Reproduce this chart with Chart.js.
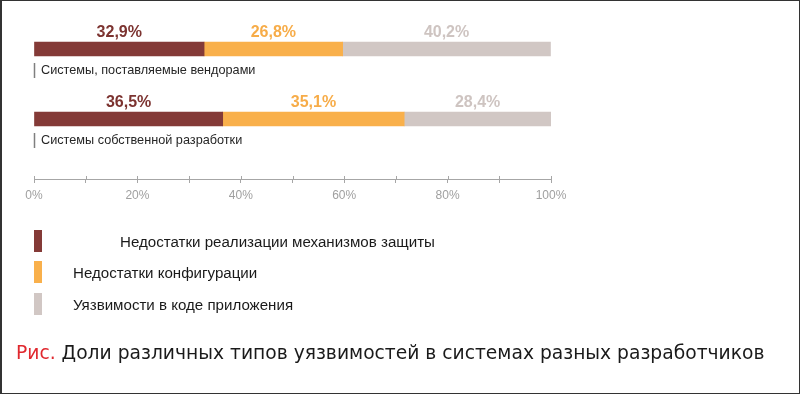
<!DOCTYPE html>
<html>
<head>
<meta charset="utf-8">
<script src="https://cdn.jsdelivr.net/npm/chart.js@4"></script>
<style>
  html, body { margin: 0; padding: 0; background: #fff; }
  #wrap { position: relative; width: 800px; height: 394px; box-sizing: border-box; border: 1px solid #333; border-left-width: 2px; overflow: hidden; }
  #chart { position: absolute; left: -2px; top: -1px; }
  #caption { position: absolute; left: 14px; top: 341px; font-family: "DejaVu Sans", sans-serif; font-size: 18.7px; color: #1a1a1a; white-space: nowrap; }
  #caption .fig { color: #e0282e; }
</style>
</head>
<body>
<div id="wrap">
  <canvas id="chart" width="800" height="394"></canvas>
  <div id="caption"><span class="fig">Рис.</span> Доли различных типов уязвимостей в системах разных разработчиков</div>
</div>
<script>
const categories = ['Системы, поставляемые вендорами', 'Системы собственной разработки'];
const seriesNames = ['Недостатки реализации механизмов защиты', 'Недостатки конфигурации', 'Уязвимости в коде приложения'];
const protectionFlaws = [32.9, 36.5];
const configFlaws = [26.8, 35.1];
const codeVulns = [40.2, 28.4];
const barColors = ['#843a37', '#f9b04b', '#d1c7c4'];
const labelColors = ['#7c3330', '#f7ac48', '#cec4c1'];

const FONT = '"Liberation Sans", sans-serif';

const fmt = v => v.toFixed(1).replace('.', ',') + '%';

const overlay = {
  id: 'overlay',
  afterDatasetsDraw(chart) {
    const ctx = chart.ctx;
    const xs = chart.scales.x;
    ctx.save();

    // value labels above each segment
    ctx.font = 'bold 16px ' + FONT;
    ctx.textAlign = 'center';
    ctx.textBaseline = 'middle';
    chart.data.datasets.forEach((ds, di) => {
      chart.getDatasetMeta(di).data.forEach((el, i) => {
        ctx.fillStyle = labelColors[di];
        ctx.fillText(fmt(ds.data[i].x), (el.x + el.base) / 2, el.y - 16);
      });
    });

    // category labels under each bar
    const first = chart.getDatasetMeta(0).data;
    ctx.font = '12.7px ' + FONT;
    ctx.textAlign = 'left';
    first.forEach((el, i) => {
      ctx.strokeStyle = '#7f7f7f';
      ctx.lineWidth = 1.5;
      ctx.beginPath();
      ctx.moveTo(xs.left + 0.5, el.y + 14);
      ctx.lineTo(xs.left + 0.5, el.y + 29);
      ctx.stroke();
      ctx.fillStyle = '#262626';
      ctx.fillText(categories[i], xs.left + 7, el.y + 21);
    });

    // tick marks also rise above the axis line
    ctx.strokeStyle = '#a6a6a6';
    ctx.lineWidth = 1;
    xs.ticks.forEach(t => {
      const px = Math.round(xs.getPixelForValue(t.value)) + 0.5;
      ctx.beginPath();
      ctx.moveTo(px, xs.top - 3);
      ctx.lineTo(px, xs.top);
      ctx.stroke();
    });

    // legend
    const legendRows = [
      { top: 230, textX: 120 },
      { top: 261, textX: 73 },
      { top: 293, textX: 73 }
    ];
    ctx.font = '15.1px ' + FONT;
    chart.data.datasets.forEach((ds, di) => {
      const r = legendRows[di];
      ctx.fillStyle = ds.backgroundColor;
      ctx.fillRect(xs.left, r.top, 8, 22);
      ctx.fillStyle = '#1a1a1a';
      ctx.fillText(ds.label, r.textX, r.top + 13);
    });
    ctx.restore();
  }
};

const toPoints = arr => arr.map((v, i) => ({ x: v, y: i }));

new Chart(document.getElementById('chart'), {
  type: 'bar',
  data: {
    datasets: [
      { label: seriesNames[0], data: toPoints(protectionFlaws), backgroundColor: barColors[0] },
      { label: seriesNames[1], data: toPoints(configFlaws), backgroundColor: barColors[1] },
      { label: seriesNames[2], data: toPoints(codeVulns), backgroundColor: barColors[2] }
    ]
  },
  options: {
    indexAxis: 'y',
    responsive: false,
    animation: false,
    barThickness: 14,
    layout: { padding: { left: 34, right: 249, top: 14, bottom: 186.6 } },
    plugins: {
      legend: { display: false },
      tooltip: { enabled: false }
    },
    scales: {
      x: {
        stacked: true,
        min: 0,
        max: 100,
        grid: { drawOnChartArea: false, color: '#a6a6a6', tickLength: 4 },
        border: { color: '#a6a6a6' },
        ticks: {
          stepSize: 10,
          autoSkip: false,
          maxRotation: 0,
          color: '#a0a0a0',
          padding: 5,
          font: { family: FONT, size: 12 },
          callback: v => (v % 20 === 0 ? v + '%' : '')
        }
      },
      y: {
        type: 'linear',
        stacked: true,
        display: false,
        offset: false,
        reverse: true,
        min: -0.5,
        max: 1.857
      }
    }
  },
  plugins: [overlay]
});
</script>
</body>
</html>
